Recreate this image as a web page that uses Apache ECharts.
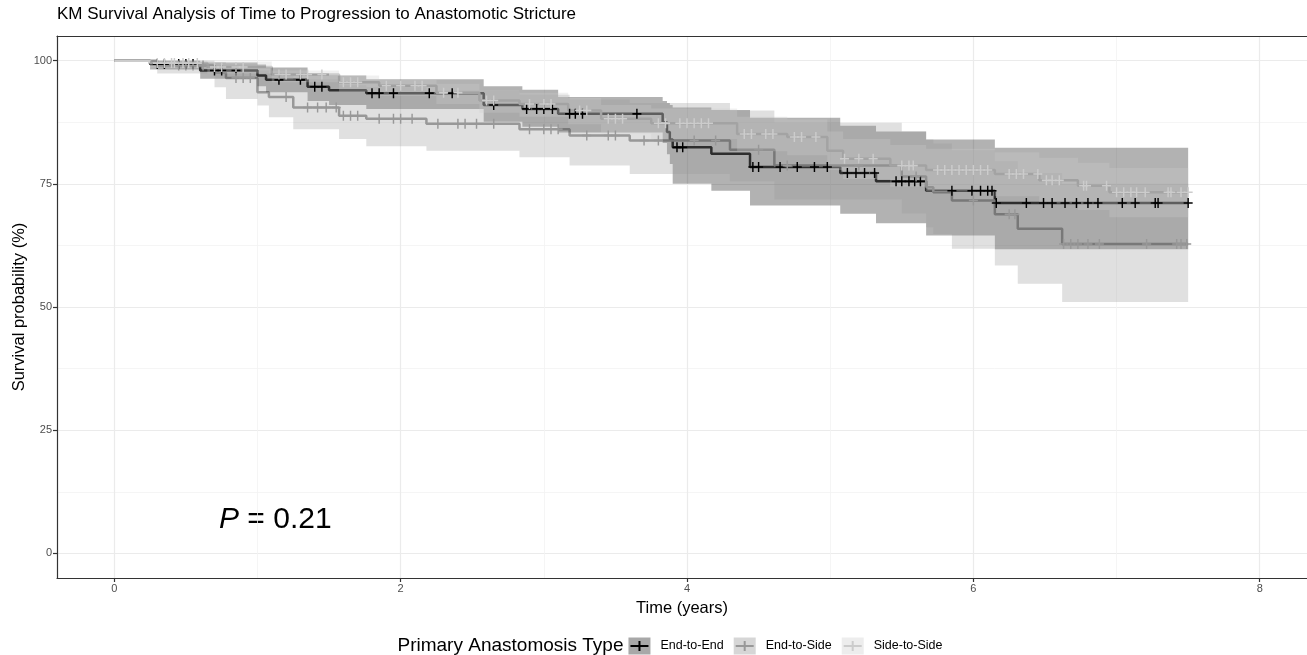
<!DOCTYPE html>
<html><head><meta charset="utf-8">
<script src="https://cdn.jsdelivr.net/npm/echarts@6/dist/echarts.min.js"></script>
<style>html,body{margin:0;padding:0;background:#fff}#c{width:1307px;height:655px}</style>
</head><body><div id="c"></div>
<script>
// ---------- data ----------
const groups = ['End-to-End', 'End-to-Side', 'Side-to-Side'];
const xTicks = [0, 2, 4, 6, 8];
const yTicks = [0, 25, 50, 75, 100];
const xMinor = [1, 3, 5, 7];
const yMinor = [12.5, 37.5, 62.5, 87.5];
const tEnd = 7.5;

// End-to-End
const e2eTime  = [0, 0.25, 0.6, 1.0, 1.06, 1.35, 1.5, 1.76, 2.58, 2.85, 3.1, 3.83, 3.86, 3.88, 3.9, 4.17, 4.44, 5.07, 5.32, 5.67, 6.15];
const e2eSurv  = [100, 99.3, 98.0, 97.0, 96.1, 94.7, 94.0, 93.4, 91.0, 90.2, 89.2, 87.5, 85.5, 84.0, 82.4, 81.1, 78.4, 77.2, 75.5, 73.6, 71.1];
const e2eUpper = [100, 100, 99.6, 99.2, 98.6, 97.4, 97.0, 96.2, 94.8, 94.1, 92.6, 91.8, 91.4, 91.0, 90.5, 90.0, 88.4, 86.8, 85.6, 84.0, 82.3];
const e2eLower = [100, 98.2, 96.3, 94.8, 93.6, 91.8, 91.0, 90.2, 87.6, 86.6, 85.4, 83.3, 81.0, 79.0, 75.0, 73.6, 70.6, 68.9, 67.0, 64.5, 61.7];
const e2eCensor = [0.3, 0.35, 0.45, 0.5, 0.55, 0.7, 0.75, 0.85, 1.15, 1.3, 1.4, 1.45, 1.8, 1.85, 1.95, 2.2, 2.36, 2.65, 2.88, 2.95, 3.0, 3.06, 3.18, 3.22, 3.27, 3.65,
  3.93, 3.97, 4.46, 4.5, 4.65, 4.77, 4.89, 4.98, 5.12, 5.18, 5.24, 5.31, 5.46, 5.5, 5.55, 5.59, 5.63, 5.85, 5.99, 6.05, 6.1, 6.13,
  6.16, 6.37, 6.49, 6.55, 6.64, 6.72, 6.8, 6.87, 7.04, 7.13, 7.27, 7.29, 7.5];

// End-to-Side
const e2sTime  = [0, 0.3, 0.7, 0.78, 1.0, 1.08, 1.25, 1.57, 1.76, 2.18, 2.83, 3.18, 3.6, 4.3, 4.61, 5.5, 5.67, 5.72, 5.85, 6.15, 6.31, 6.62];
const e2sSurv  = [100, 99.0, 97.6, 96.5, 93.6, 92.6, 90.5, 88.8, 88.2, 87.2, 86.1, 84.8, 83.8, 81.9, 78.7, 76.5, 74.3, 73.3, 71.6, 68.8, 65.9, 62.8];
const e2sUpper = [100, 100, 99.7, 99.3, 98.0, 97.4, 96.2, 95.0, 94.6, 93.9, 93.1, 92.1, 91.4, 89.9, 87.4, 85.6, 84.0, 83.2, 81.8, 79.6, 77.2, 75.0];
const e2sLower = [100, 97.4, 94.6, 92.2, 90.9, 88.5, 86.1, 84.1, 82.6, 81.7, 80.4, 78.7, 77.0, 75.5, 71.8, 69.0, 66.2, 64.8, 61.8, 58.4, 54.7, 51.0];
const e2sCensor = [0.45, 0.5, 0.55, 0.62, 0.85, 0.9, 0.95, 1.2, 1.35, 1.42, 1.48, 1.55, 1.6, 1.65, 1.7, 1.85, 1.95, 2.0, 2.08, 2.26, 2.4, 2.45, 2.53, 2.65,
  2.9, 3.0, 3.05, 3.1, 3.3, 3.45, 3.5, 3.7, 3.8, 4.05, 4.2, 4.5, 4.7, 5.2, 5.6, 6.0, 6.25, 6.29, 6.63, 6.68, 6.73, 6.8, 6.88, 7.21, 7.42, 7.45, 7.49];

// Side-to-Side
const s2sTime  = [0, 0.25, 0.65, 1.1, 1.57, 1.85, 2.25, 2.55, 2.83, 3.17, 3.4, 3.75, 4.35, 4.7, 4.98, 5.09, 5.42, 5.67, 6.15, 6.46, 6.73, 6.95];
const s2sSurv  = [100, 99.5, 98.7, 97.2, 95.6, 94.9, 93.5, 91.9, 91.2, 89.9, 88.2, 87.3, 85.1, 84.5, 81.7, 80.1, 78.7, 77.8, 77.0, 75.7, 74.6, 73.3];
const s2sUpper = [100, 100, 99.8, 98.0, 97.0, 96.2, 95.3, 94.0, 93.5, 92.4, 91.0, 90.3, 88.6, 88.1, 85.6, 84.1, 82.9, 82.1, 81.4, 80.3, 79.3, 78.2];
const s2sLower = [100, 98.6, 97.4, 95.6, 93.7, 92.8, 91.2, 89.4, 88.6, 87.1, 85.2, 84.1, 81.6, 80.8, 77.8, 76.0, 74.4, 73.4, 72.5, 71.0, 69.7, 68.2];
const s2sCensor = [0.3, 0.35, 0.4, 0.42, 0.48, 0.52, 0.58, 0.7, 0.75, 0.85, 0.9, 1.15, 1.2, 1.3, 1.35, 1.45, 1.6, 1.65, 1.7, 1.9, 2.0, 2.1, 2.15, 2.3, 2.4,
  2.6, 2.65, 2.9, 3.0, 3.05, 3.25, 3.3, 3.45, 3.5, 3.55, 3.8, 3.85, 3.95, 4.0, 4.05, 4.1, 4.15, 4.4, 4.45, 4.55, 4.6, 4.75, 4.8, 4.9,
  5.1, 5.2, 5.3, 5.5, 5.55, 5.58, 5.75, 5.8, 5.85, 5.9, 5.95, 6.0, 6.05, 6.1, 6.25, 6.3, 6.35, 6.45, 6.51, 6.55, 6.6, 6.77, 6.79,
  6.93, 7.0, 7.05, 7.1, 7.14, 7.2, 7.36, 7.38, 7.45, 7.5];

const pValueText = '0.21';

// ---------- styling ----------
const lineColors   = ['#000000', '#989898', '#cccccc'];
const ribbonColors = ['rgba(0,0,0,0.3)', 'rgba(152,152,152,0.3)', 'rgba(204,204,204,0.3)'];
const keyFill      = ['#a8a8a8', '#d6d6d6', '#ededed'];
const FONT = 'Liberation Sans, Arial, sans-serif';
const X_MIN = -0.4, X_MAX = 8.33, Y_MIN = -5, Y_MAX = 105;

const G = [
  {time: e2eTime, surv: e2eSurv, up: e2eUpper, lo: e2eLower, cens: e2eCensor},
  {time: e2sTime, surv: e2sSurv, up: e2sUpper, lo: e2sLower, cens: e2sCensor},
  {time: s2sTime, surv: s2sSurv, up: s2sUpper, lo: s2sLower, cens: s2sCensor}
];

function survAt(g, t) {
  let s = g.surv[0];
  for (let i = 0; i < g.time.length; i++) { if (g.time[i] <= t) s = g.surv[i]; }
  return s;
}

const crossPath = 'path://M0,4.2H10V5.8H0Z M4.2,0H5.8V10H4.2Z';

const series = [];
// step lines (drawn first, ribbons overlay them like in the source)
G.forEach((g, k) => {
  const data = g.time.map((t, i) => [t, g.surv[i]]);
  data.push([tEnd, g.surv[g.surv.length - 1]]);
  series.push({
    type: 'line', name: groups[k], step: 'end', data: data, showSymbol: false, symbol: 'none',
    lineStyle: {color: lineColors[k], width: 2.5}, silent: true, z: 2
  });
});
// confidence ribbons
G.forEach((g, k) => {
  series.push({
    type: 'custom', name: groups[k] + ' CI', silent: true, z: 3,
    data: [[0, 100]],
    renderItem: function (params, api) {
      const n = g.time.length, pts = [];
      for (let i = 0; i < n; i++) {
        const t1 = i + 1 < n ? g.time[i + 1] : tEnd;
        pts.push(api.coord([g.time[i], g.up[i]]));
        pts.push(api.coord([t1, g.up[i]]));
      }
      for (let i = n - 1; i >= 0; i--) {
        const t1 = i + 1 < n ? g.time[i + 1] : tEnd;
        pts.push(api.coord([t1, g.lo[i]]));
        pts.push(api.coord([g.time[i], g.lo[i]]));
      }
      return {type: 'polygon', shape: {points: pts}, style: {fill: ribbonColors[k], stroke: null}};
    }
  });
});
// censor marks
G.forEach((g, k) => {
  series.push({
    type: 'scatter', name: groups[k] + ' censor', silent: true, z: 4,
    symbol: crossPath, symbolSize: [9, 10],
    itemStyle: {color: lineColors[k], opacity: 1},
    data: g.cens.map(t => [t, survAt(g, t)])
  });
});

// ---------- legend (graphic) ----------
const mctx = document.createElement('canvas').getContext('2d');
function tw(text, size) { mctx.font = size + 'px "Liberation Sans"'; return mctx.measureText(text).width; }
const legTitle = 'Primary Anastomosis Type';
const legTitleSize = 19, legLabelSize = 12.5, keyW = 22, keyH = 17;
let totalW = tw(legTitle, legTitleSize) + 5;
groups.forEach((g, i) => { totalW += keyW + 10 + tw(g, legLabelSize) + (i < groups.length - 1 ? 10 : 0); });
const legCenter = 670, legY = 646;
let lx = legCenter - totalW / 2;
const legendEls = [];
legendEls.push({type: 'text', x: lx, y: legY, style: {text: legTitle, fontSize: legTitleSize, fontFamily: FONT, fill: '#000', verticalAlign: 'middle'}});
lx += tw(legTitle, legTitleSize) + 5;
groups.forEach((g, k) => {
  legendEls.push({type: 'rect', shape: {x: lx, y: legY - keyH / 2, width: keyW, height: keyH}, style: {fill: keyFill[k]}});
  legendEls.push({type: 'line', shape: {x1: lx + 2, y1: legY, x2: lx + keyW - 2, y2: legY}, style: {stroke: lineColors[k], lineWidth: 2}});
  legendEls.push({type: 'line', shape: {x1: lx + keyW / 2, y1: legY - 5, x2: lx + keyW / 2, y2: legY + 5}, style: {stroke: lineColors[k], lineWidth: 2}});
  lx += keyW + 10;
  legendEls.push({type: 'text', x: lx, y: legY, style: {text: g, fontSize: legLabelSize, fontFamily: FONT, fill: '#000', verticalAlign: 'middle'}});
  lx += tw(g, legLabelSize) + 10;
});

const borderLine = {show: true, onZero: false, lineStyle: {color: '#333', width: 1.2}};

const option = {
  animation: false,
  backgroundColor: '#fff',
  title: {text: 'KM Survival Analysis of Time to Progression to Anastomotic Stricture', left: 57, top: 6, padding: 0,
    textStyle: {fontSize: 17, fontWeight: 'normal', color: '#000', fontFamily: FONT}},
  grid: {left: 57, top: 36, right: 0, bottom: 77, show: false},
  xAxis: [
    {type: 'value', min: X_MIN, max: X_MAX, gridIndex: 0, position: 'bottom',
      axisLine: borderLine,
      axisTick: {show: true, customValues: xTicks, length: 4, lineStyle: {color: '#333', width: 1.2}},
      axisLabel: {customValues: xTicks, color: '#4d4d4d', fontSize: 11, margin: 5, fontFamily: FONT},
      splitLine: {show: true, lineStyle: {color: '#ebebeb', width: 1.2}},
      name: 'Time (years)', nameLocation: 'middle', nameGap: 22,
      nameTextStyle: {fontSize: 16.5, color: '#000', fontFamily: FONT}},
    {type: 'value', min: X_MIN, max: X_MAX, gridIndex: 0, position: 'bottom',
      axisLine: {show: false, onZero: false}, axisTick: {show: false, customValues: xMinor}, axisLabel: {show: false, customValues: xMinor},
      splitLine: {show: true, lineStyle: {color: '#f2f2f2', width: 0.8}}},
    {type: 'value', min: X_MIN, max: X_MAX, gridIndex: 0, position: 'top',
      axisLine: borderLine, axisTick: {show: false}, axisLabel: {show: false}, splitLine: {show: false}}
  ],
  yAxis: [
    {type: 'value', min: Y_MIN, max: Y_MAX, gridIndex: 0, position: 'left',
      axisLine: borderLine,
      axisTick: {show: true, customValues: yTicks, length: 4, lineStyle: {color: '#333', width: 1.2}},
      axisLabel: {customValues: yTicks, color: '#4d4d4d', fontSize: 11, margin: 5, fontFamily: FONT},
      splitLine: {show: true, lineStyle: {color: '#ebebeb', width: 1.2}},
      name: 'Survival probability (%)', nameLocation: 'middle', nameGap: 29, nameRotate: 90, nameMoveOverlap: false,
      nameTextStyle: {fontSize: 16.5, color: '#000', fontFamily: FONT}},
    {type: 'value', min: Y_MIN, max: Y_MAX, gridIndex: 0, position: 'left',
      axisLine: {show: false, onZero: false}, axisTick: {show: false, customValues: yMinor}, axisLabel: {show: false, customValues: yMinor},
      splitLine: {show: true, lineStyle: {color: '#f2f2f2', width: 0.8}}}
  ],
  series: series,
  graphic: [
    {type: 'text', x: 219, y: 520, silent: true,
      style: {text: '{i|P}{n| = ' + pValueText + '}', fontSize: 30, fontFamily: FONT, fill: '#000', verticalAlign: 'middle',
        rich: {i: {fontStyle: 'italic', fontSize: 30, fontFamily: FONT}, n: {fontSize: 30, fontFamily: FONT}}}}
  ].concat(legendEls)
};

const chart = echarts.init(document.getElementById('c'), null, {renderer: 'canvas'});
chart.setOption(option);
</script>
</body></html>
